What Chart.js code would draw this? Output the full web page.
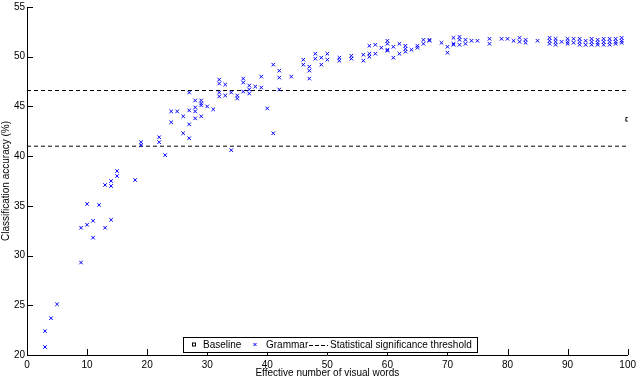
<!DOCTYPE html>
<html>
<head>
<meta charset="utf-8">
<title>Classification accuracy vs visual words</title>
<script src="https://cdn.jsdelivr.net/npm/chart.js@4"></script>
<style>
  html, body { margin: 0; padding: 0; background: #fff; }
  #chart { display: block; }
</style>
</head>
<body>
<canvas id="chart" width="640" height="376"></canvas>
<script>
/* =====================
   Data
   ===================== */

const grammarX = [
  3, 3, 4, 5, 9, 9, 10, 10, 11, 11, 12, 13, 13, 14, 14, 14, 15, 15, 18, 19, 19,
  22, 22, 23, 24, 24, 25, 26, 26, 27, 27, 27, 27, 28, 28, 28, 28, 29, 29, 29, 29,
  30, 31, 32, 32, 32, 32, 33, 33, 34, 34, 35, 35, 36, 36, 36, 37, 37, 37, 38,
  39, 39, 40, 41, 41, 42, 42, 42, 44, 46, 46, 47, 47, 47, 48, 48, 49, 49, 50, 50,
  52, 52, 54, 54, 56, 56, 57, 57, 57, 58, 58, 59, 60, 60, 60, 60, 61, 61, 62, 62,
  63, 63, 63, 64, 65, 65, 66, 66, 67, 67, 69, 70, 70, 71, 71, 71, 72, 72, 72,
  73, 73, 74, 75, 77, 77, 79, 80, 81, 82, 82, 83, 83, 85,
  87, 87, 87, 88, 88, 88, 89, 90, 90, 90, 91, 91, 92, 92, 92, 93, 93,
  94, 94, 94, 95, 95, 95, 96, 96, 96, 97, 97, 97, 98, 98, 98, 99, 99, 99
];
const grammarY = [
  22.4, 20.8, 23.7, 25.1, 32.8, 29.3, 33.1, 35.2, 33.5, 31.8, 35.1, 37.1, 32.8, 37.5, 37.0, 33.6, 38.5, 38.0, 37.6, 41.4, 41.1,
  41.9, 41.4, 40.1, 43.4, 44.5, 44.5, 44.0, 42.3, 46.4, 44.6, 43.2, 41.8, 45.6, 44.9, 44.5, 43.8, 45.6, 45.3, 45.1, 44.0,
  45.0, 44.7, 47.7, 47.3, 46.4, 46.0, 47.2, 46.1, 46.4, 40.6, 46.1, 45.8, 47.8, 47.4, 46.5, 47.1, 46.7, 46.3, 47.0,
  48.0, 46.9, 44.8, 49.2, 42.3, 48.6, 47.9, 46.7, 48.0, 49.7, 49.2, 49.0, 48.6, 47.8, 50.3, 49.8, 49.9, 49.2, 50.3, 49.7,
  49.9, 49.6, 50.1, 49.8, 50.2, 49.6, 51.1, 50.3, 50.0, 51.2, 50.3, 50.9, 51.6, 51.3, 50.7, 50.6, 51.0, 49.9, 51.3, 50.3,
  51.1, 50.8, 50.5, 50.7, 51.1, 50.9, 51.7, 51.3, 51.7, 51.6, 51.4, 51.0, 50.4, 51.9, 51.3, 51.2, 52.0, 51.7, 51.2,
  51.7, 51.3, 51.6, 51.6, 51.8, 51.3, 51.8, 51.8, 51.6, 51.9, 51.5, 51.7, 51.4, 51.6,
  51.9, 51.6, 51.3, 51.8, 51.5, 51.2, 51.5, 51.8, 51.5, 51.3, 51.8, 51.4, 51.8, 51.5, 51.2, 51.6, 51.2,
  51.8, 51.5, 51.2, 51.7, 51.4, 51.2, 51.8, 51.5, 51.2, 51.8, 51.5, 51.2, 51.8, 51.5, 51.3, 51.9, 51.6, 51.4
];

const baselineX = [100];
const baselineY = [43.7];

// Upper and lower significance bounds
const thresholdLevels = [46.6, 41.0];

const xTicks = [0, 10, 20, 30, 40, 50, 60, 70, 80, 90, 100];
const yTicks = [20, 25, 30, 35, 40, 45, 50, 55];

const legendLabels = ['Baseline', 'Grammar', 'Statistical significance threshold'];

/* =====================
   Helpers
   ===================== */

const FONT = "'Liberation Sans', Arial, sans-serif";

function toPoints(xs, ys) {
  return xs.map((x, i) => ({ x, y: ys[i] }));
}

function thresholdLine(level) {
  return [{ x: xTicks[0], y: level }, { x: xTicks[xTicks.length - 1], y: level }];
}

// MATLAB-style ticks pointing into the plot
const innerTicks = {
  id: 'innerTicks',
  afterDraw(chart) {
    const { ctx, scales: { x, y } } = chart;
    ctx.save();
    ctx.strokeStyle = '#000';
    ctx.lineWidth = 1;
    ctx.beginPath();
    xTicks.forEach(v => {
      const px = Math.round(x.getPixelForValue(v)) + 0.5;
      ctx.moveTo(px, y.bottom);
      ctx.lineTo(px, y.bottom - 6);
    });
    yTicks.forEach(v => {
      const py = Math.round(y.getPixelForValue(v)) + 0.5;
      ctx.moveTo(x.left, py);
      ctx.lineTo(x.left + 6, py);
    });
    ctx.stroke();
    ctx.restore();
  },
};

// Boxed legend sitting at the bottom of the plot
const boxLegend = {
  id: 'boxLegend',
  afterDraw(chart) {
    const ctx = chart.ctx;
    const left = 183, top = 337, right = 477, bottom = 352;
    const mid = (top + bottom) / 2;

    ctx.save();
    ctx.fillStyle = '#fff';
    ctx.fillRect(left, top, right - left, bottom - top);
    ctx.strokeStyle = '#000';
    ctx.lineWidth = 1;
    ctx.strokeRect(left + 0.5, top + 0.5, right - left, bottom - top);

    // Baseline marker
    ctx.strokeRect(192.5, mid - 1.5, 3, 3);
    // Grammar marker
    ctx.strokeStyle = '#0000ff';
    ctx.beginPath();
    ctx.moveTo(253.5, mid - 1.5); ctx.lineTo(256.5, mid + 1.5);
    ctx.moveTo(256.5, mid - 1.5); ctx.lineTo(253.5, mid + 1.5);
    ctx.stroke();
    // Threshold sample
    ctx.strokeStyle = '#000';
    ctx.setLineDash([4, 2]);
    ctx.beginPath();
    ctx.moveTo(309, Math.round(mid) + 0.5);
    ctx.lineTo(328, Math.round(mid) + 0.5);
    ctx.stroke();
    ctx.setLineDash([]);

    ctx.fillStyle = '#000';
    ctx.font = `10px ${FONT}`;
    ctx.textBaseline = 'middle';
    ctx.fillText(legendLabels[0], 203, mid + 1);
    ctx.fillText(legendLabels[1], 266, mid + 1);
    ctx.fillText(legendLabels[2], 330, mid + 1);
    ctx.restore();
  },
};

/* =====================
   Chart
   ===================== */

function renderChart() {
  const canvas = document.getElementById('chart');

  new Chart(canvas, {
    type: 'scatter',
    data: {
      datasets: [
        {
          label: legendLabels[0],
          data: toPoints(baselineX, baselineY),
          pointStyle: 'rect',
          pointRadius: 2.5,
          borderColor: '#000',
          backgroundColor: '#fff',
          borderWidth: 1,
        },
        {
          label: legendLabels[1],
          data: toPoints(grammarX, grammarY),
          pointStyle: 'crossRot',
          pointRadius: 2.5,
          borderColor: '#0000ff',
          backgroundColor: '#0000ff',
          borderWidth: 1,
        },
        ...thresholdLevels.map((level, i) => ({
          type: 'line',
          label: i === 0 ? legendLabels[2] : '',
          data: thresholdLine(level),
          borderColor: '#000',
          borderWidth: 1,
          borderDash: [4, 3],
          pointRadius: 0,
          fill: false,
        })),
      ],
    },
    options: {
      responsive: false,
      animation: false,
      devicePixelRatio: 1,
      layout: { padding: { left: 0, right: 8, top: 5, bottom: 0 } },
      plugins: {
        legend: { display: false },
        tooltip: { enabled: false },
      },
      scales: {
        x: {
          type: 'linear',
          min: 0,
          max: 100,
          afterBuildTicks: s => { s.ticks = xTicks.map(v => ({ value: v })); },
          afterFit: s => { s.height = 21; },
          grid: { display: false, drawTicks: false },
          border: { display: true, color: '#000', width: 1 },
          ticks: { color: '#000', padding: 4, maxRotation: 0, font: { family: FONT, size: 10 } },
          title: {
            display: true,
            text: 'Effective number of visual words',
            color: '#000',
            padding: { top: 0, bottom: -3 },
            font: { family: FONT, size: 10 },
          },
        },
        y: {
          type: 'linear',
          min: 20,
          max: 55,
          afterBuildTicks: s => { s.ticks = yTicks.map(v => ({ value: v })); },
          afterFit: s => { s.width = 27; },
          grid: { display: false, drawTicks: false },
          border: { display: true, color: '#000', width: 1 },
          ticks: { color: '#000', padding: 2, font: { family: FONT, size: 10, lineHeight: 1 } },
          title: {
            display: true,
            text: 'Classification accuracy (%)',
            color: '#000',
            padding: { top: 0, bottom: 0 },
            font: { family: FONT, size: 10 },
          },
        },
      },
    },
    plugins: [innerTicks, boxLegend],
  });
}

renderChart();
</script>
</body>
</html>
